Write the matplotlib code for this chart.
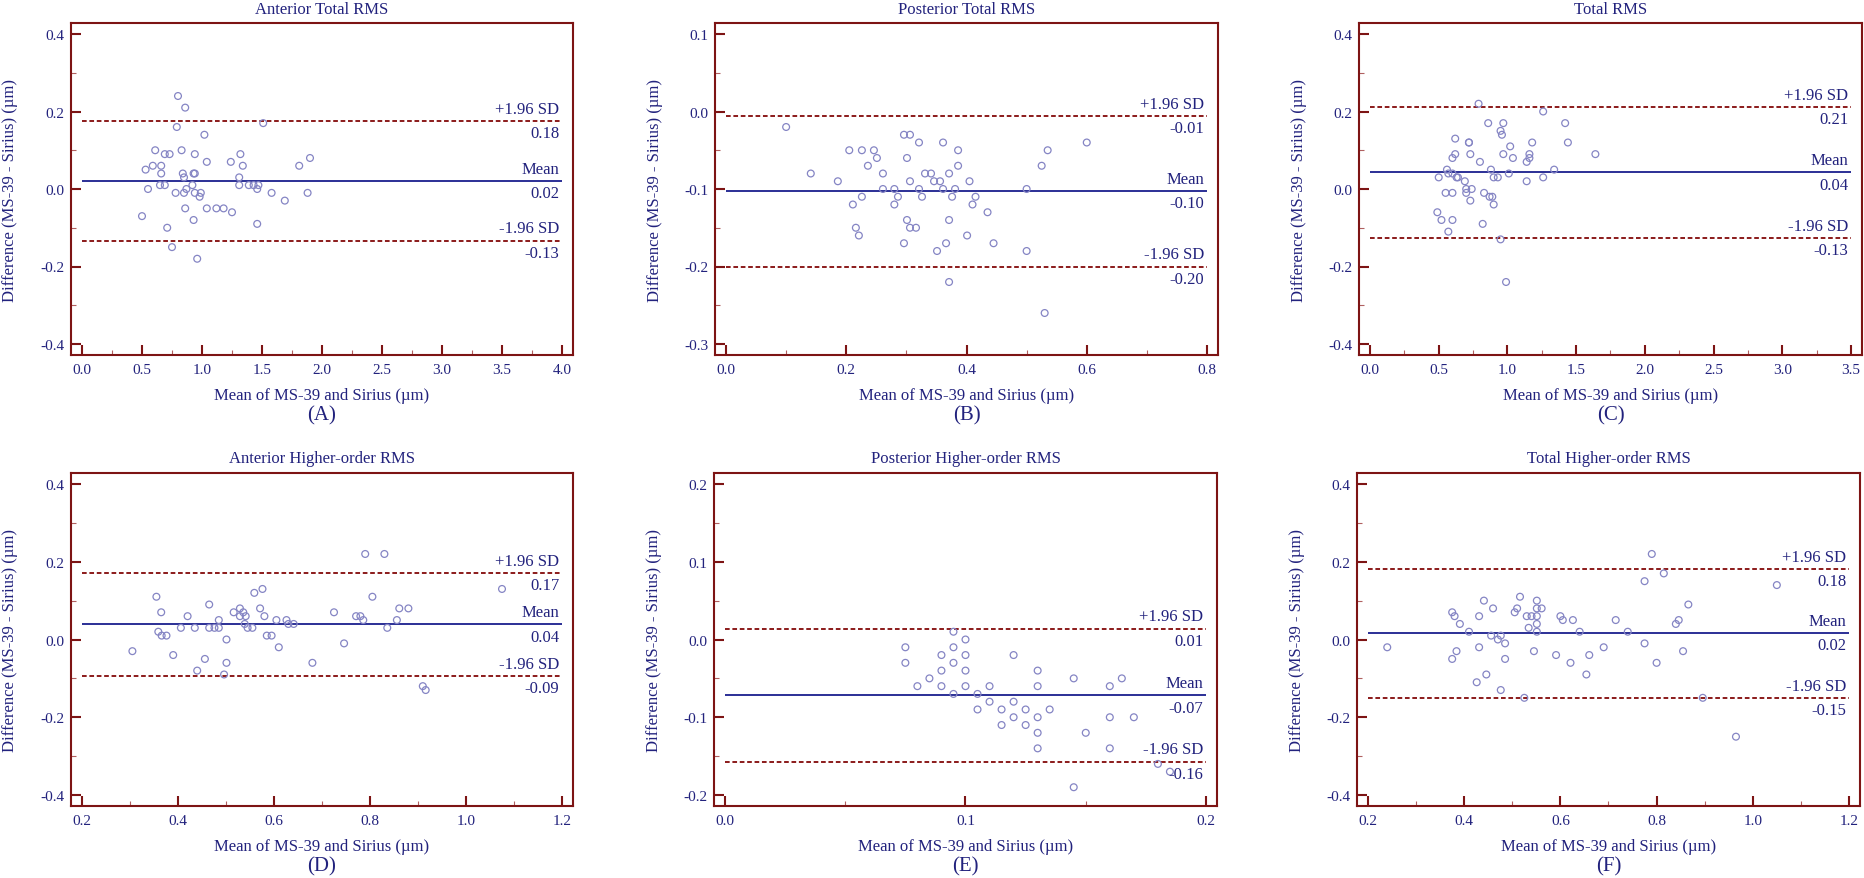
import matplotlib
matplotlib.use("Agg")
import matplotlib.pyplot as plt
from matplotlib.ticker import MultipleLocator, FormatStrFormatter

plt.rcParams['font.family'] = ['Liberation Serif', 'DejaVu Serif']
plt.rcParams['axes.unicode_minus'] = False

# ---- data ----
titles = ["Anterior Total RMS", "Posterior Total RMS", "Total RMS",
          "Anterior Higher-order RMS", "Posterior Higher-order RMS", "Total Higher-order RMS"]
letters = ["(A)", "(B)", "(C)", "(D)", "(E)", "(F)"]

a_x = [0.80, 0.86, 0.79, 1.51, 1.02, 0.61, 0.69, 0.73, 0.83, 0.94, 1.32, 1.90, 1.81, 1.04,
       1.24, 1.34, 0.59, 0.66, 0.53, 0.66, 0.84, 0.93, 0.94, 0.85, 1.31, 0.65, 0.69, 0.92,
       1.31, 1.39, 1.43, 1.47, 1.46, 0.55, 0.87, 0.78, 0.85, 0.94, 0.99, 0.98, 1.58, 1.88,
       1.69, 0.86, 1.04, 1.12, 1.18, 1.25, 0.50, 0.93, 0.71, 1.46, 0.75, 0.96]
a_y = [0.24, 0.21, 0.16, 0.17, 0.14, 0.10, 0.09, 0.09, 0.10, 0.09, 0.09, 0.08, 0.06, 0.07,
       0.07, 0.06, 0.06, 0.06, 0.05, 0.04, 0.04, 0.04, 0.04, 0.03, 0.03, 0.01, 0.01, 0.01,
       0.01, 0.01, 0.01, 0.01, 0.00, 0.00, 0.00, -0.01, -0.01, -0.01, -0.01, -0.02, -0.01, -0.01,
       -0.03, -0.05, -0.05, -0.05, -0.05, -0.06, -0.07, -0.08, -0.10, -0.09, -0.15, -0.18]

b_x = [0.100, 0.141, 0.186, 0.205, 0.226, 0.246, 0.251, 0.236, 0.261, 0.261, 0.280, 0.286,
       0.280, 0.211, 0.226, 0.216, 0.221, 0.296, 0.306, 0.321, 0.301, 0.306, 0.321, 0.326,
       0.331, 0.341, 0.346, 0.356, 0.361, 0.361, 0.386, 0.386, 0.371, 0.381, 0.376, 0.405,
       0.415, 0.410, 0.435, 0.301, 0.306, 0.316, 0.371, 0.296, 0.351, 0.366, 0.401, 0.445,
       0.371, 0.500, 0.500, 0.525, 0.535, 0.600, 0.530]
b_y = [-0.02, -0.08, -0.09, -0.05, -0.05, -0.05, -0.06, -0.07, -0.08, -0.10, -0.10, -0.11,
       -0.12, -0.12, -0.11, -0.15, -0.16, -0.03, -0.03, -0.04, -0.06, -0.09, -0.10, -0.11,
       -0.08, -0.08, -0.09, -0.09, -0.10, -0.04, -0.05, -0.07, -0.08, -0.10, -0.11, -0.09,
       -0.11, -0.12, -0.13, -0.14, -0.15, -0.15, -0.14, -0.17, -0.18, -0.17, -0.16, -0.17,
       -0.22, -0.10, -0.18, -0.07, -0.05, -0.04, -0.26]

c_x = [0.79, 1.26, 0.86, 0.97, 1.42, 0.95, 0.96, 0.62, 0.72, 0.72, 1.18, 1.44, 1.02, 0.62,
       0.73, 0.97, 1.16, 1.64, 0.60, 1.04, 1.16, 0.80, 1.14, 0.56, 0.88, 1.34, 0.57, 0.60,
       1.01, 0.50, 0.63, 0.64, 0.90, 0.93, 1.26, 0.69, 1.14, 0.70, 0.74, 0.55, 0.60, 0.70,
       0.83, 0.87, 0.89, 0.73, 0.90, 0.49, 0.52, 0.60, 0.82, 0.57, 0.95, 0.99]
c_y = [0.22, 0.20, 0.17, 0.17, 0.17, 0.15, 0.14, 0.13, 0.12, 0.12, 0.12, 0.12, 0.11, 0.09,
       0.09, 0.09, 0.09, 0.09, 0.08, 0.08, 0.08, 0.07, 0.07, 0.05, 0.05, 0.05, 0.04, 0.04,
       0.04, 0.03, 0.03, 0.03, 0.03, 0.03, 0.03, 0.02, 0.02, 0.00, 0.00, -0.01, -0.01, -0.01,
       -0.01, -0.02, -0.02, -0.03, -0.04, -0.06, -0.08, -0.08, -0.09, -0.11, -0.13, -0.24]

d_x = [0.305, 0.355, 0.365, 0.359, 0.366, 0.376, 0.390, 0.406, 0.420, 0.435, 0.440, 0.456,
       0.465, 0.465, 0.476, 0.485, 0.485, 0.496, 0.501, 0.501, 0.516, 0.529, 0.529, 0.536,
       0.541, 0.539, 0.545, 0.555, 0.559, 0.576, 0.571, 0.580, 0.585, 0.595, 0.605, 0.610,
       0.626, 0.630, 0.641, 0.680, 0.725, 0.746, 0.771, 0.780, 0.786, 0.790, 0.805, 0.830,
       0.836, 0.856, 0.861, 0.880, 0.910, 0.916, 1.075]
d_y = [-0.03, 0.11, 0.07, 0.02, 0.01, 0.01, -0.04, 0.03, 0.06, 0.03, -0.08, -0.05,
       0.09, 0.03, 0.03, 0.05, 0.03, -0.09, 0.00, -0.06, 0.07, 0.08, 0.06, 0.07,
       0.06, 0.04, 0.03, 0.03, 0.12, 0.13, 0.08, 0.06, 0.01, 0.01, 0.05, -0.02,
       0.05, 0.04, 0.04, -0.06, 0.07, -0.01, 0.06, 0.06, 0.05, 0.22, 0.11, 0.22,
       0.03, 0.05, 0.08, 0.08, -0.12, -0.13, 0.13]

e_x = [0.075, 0.075, 0.080, 0.085, 0.090, 0.090, 0.090, 0.095, 0.095, 0.095, 0.095, 0.100,
       0.100, 0.100, 0.100, 0.105, 0.105, 0.110, 0.110, 0.115, 0.115, 0.120, 0.120, 0.120,
       0.125, 0.125, 0.130, 0.130, 0.130, 0.130, 0.130, 0.135, 0.145, 0.145, 0.150, 0.160,
       0.160, 0.160, 0.165, 0.170, 0.180, 0.185]
e_y = [-0.01, -0.03, -0.06, -0.05, -0.02, -0.04, -0.06, 0.01, -0.01, -0.03, -0.07, 0.00,
       -0.02, -0.04, -0.06, -0.07, -0.09, -0.06, -0.08, -0.09, -0.11, -0.02, -0.08, -0.10,
       -0.09, -0.11, -0.04, -0.06, -0.10, -0.12, -0.14, -0.09, -0.05, -0.19, -0.12, -0.06,
       -0.10, -0.14, -0.05, -0.10, -0.16, -0.17]

f_x = [0.240, 0.375, 0.380, 0.391, 0.375, 0.384, 0.410, 0.431, 0.431, 0.426, 0.441, 0.446,
       0.456, 0.460, 0.470, 0.476, 0.476, 0.485, 0.485, 0.505, 0.510, 0.516, 0.525, 0.530,
       0.534, 0.540, 0.545, 0.551, 0.551, 0.551, 0.551, 0.551, 0.561, 0.591, 0.600, 0.605,
       0.621, 0.626, 0.640, 0.654, 0.660, 0.690, 0.715, 0.740, 0.775, 0.775, 0.790, 0.800,
       0.815, 0.840, 0.846, 0.855, 0.866, 0.896, 0.965, 1.050]
f_y = [-0.02, 0.07, 0.06, 0.04, -0.05, -0.03, 0.02, 0.06, -0.02, -0.11, 0.10, -0.09,
       0.01, 0.08, 0.00, 0.01, -0.13, -0.01, -0.05, 0.07, 0.08, 0.11, -0.15, 0.06,
       0.03, 0.06, -0.03, 0.10, 0.08, 0.06, 0.04, 0.02, 0.08, -0.04, 0.06, 0.05,
       -0.06, 0.05, 0.02, -0.09, -0.04, -0.02, 0.05, 0.02, 0.15, -0.01, 0.22, -0.06,
       0.17, 0.04, 0.05, -0.03, 0.09, -0.15, -0.25, 0.14]

xs = [a_x, b_x, c_x, d_x, e_x, f_x]
ys = [a_y, b_y, c_y, d_y, e_y, f_y]

# mean and limits of agreement
upper = [0.176, -0.006, 0.212, 0.171, 0.014, 0.182]
means = [0.021, -0.103, 0.043, 0.039, -0.072, 0.017]
lower = [-0.133, -0.200, -0.127, -0.094, -0.157, -0.150]
upper_txt = ["0.18", "-0.01", "0.21", "0.17", "0.01", "0.18"]
mean_txt = ["0.02", "-0.10", "0.04", "0.04", "-0.07", "0.02"]
lower_txt = ["-0.13", "-0.20", "-0.13", "-0.09", "-0.16", "-0.15"]

# axis ranges and tick steps
x_range = [(0.0, 4.0), (0.0, 0.8), (0.0, 3.5), (0.2, 1.2), (0.0, 0.2), (0.2, 1.2)]
y_range = [(-0.4, 0.4), (-0.3, 0.1), (-0.4, 0.4), (-0.4, 0.4), (-0.2, 0.2), (-0.4, 0.4)]
x_step = [0.5, 0.2, 0.5, 0.2, 0.1, 0.2]
y_step = [0.2, 0.1, 0.2, 0.2, 0.1, 0.2]

# ---- styling ----
W, H = 1865, 879
spine_c = '#7d1414'
text_c = '#22227d'
mean_c = '#2b2f96'
dash_c = '#8b1a1a'
marker_c = '#8585c4'
tick_fs = 11
lab_fs = 12

# axes boxes in pixels: left, top, right, bottom
boxes = [(71, 24, 573, 356), (715, 24, 1218, 356), (1359, 24, 1862, 356),
         (71, 474, 573, 807), (714, 474, 1217, 807), (1357, 474, 1860, 807)]
ylab_x = [10, 655, 1299, 10, 654, 1297]
inner = 11  # px between spine and first/last data tick

fig = plt.figure(figsize=(W / 100, H / 100), dpi=100)


def ftext(px, py, s, **kw):
    fig.text(px / W, 1 - py / H, s, color=text_c, ha='center', va='center', **kw)


for i in range(6):
    l, t, r, b = boxes[i]
    ax = fig.add_axes([l / W, 1 - b / H, (r - l) / W, (b - t) / H])
    x0, x1 = x_range[i]
    y0, y1 = y_range[i]
    padx = (x1 - x0) * inner / (r - l - 2 * inner)
    pady = (y1 - y0) * inner / (b - t - 2 * inner)
    ax.set_xlim(x0 - padx, x1 + padx)
    ax.set_ylim(y0 - pady, y1 + pady)

    ax.scatter(xs[i], ys[i], s=24, facecolors='none', edgecolors=marker_c, linewidths=0.9, zorder=3)
    ax.hlines(means[i], x0, x1, colors=mean_c, linewidth=1.4)
    ax.hlines([upper[i], lower[i]], x0, x1, colors=dash_c, linewidth=1.4,
              linestyles=(0, (2.4, 1.4)))

    for yv, top_s, bot_s in [(upper[i], "+1.96 SD", upper_txt[i]),
                             (means[i], "Mean", mean_txt[i]),
                             (lower[i], "-1.96 SD", lower_txt[i])]:
        ax.annotate(top_s, (x1, yv), xytext=(-2, 3), textcoords='offset points',
                    ha='right', va='bottom', color=text_c, fontsize=lab_fs)
        ax.annotate(bot_s, (x1, yv), xytext=(-2, -3), textcoords='offset points',
                    ha='right', va='top', color=text_c, fontsize=lab_fs)

    ax.xaxis.set_major_locator(MultipleLocator(x_step[i]))
    ax.xaxis.set_minor_locator(MultipleLocator(x_step[i] / 2))
    ax.yaxis.set_major_locator(MultipleLocator(y_step[i]))
    ax.yaxis.set_minor_locator(MultipleLocator(y_step[i] / 2))
    ax.xaxis.set_major_formatter(FormatStrFormatter('%.1f'))
    ax.yaxis.set_major_formatter(FormatStrFormatter('%.1f'))
    ax.tick_params(which='major', direction='in', length=7, width=1.5, color=spine_c,
                   labelcolor=text_c, labelsize=tick_fs)
    ax.tick_params(which='minor', direction='in', length=3.5, width=0.8, color='#b06060')
    ax.tick_params(axis='x', which='major', pad=5.5)
    ax.tick_params(axis='y', which='major', pad=5)
    for sp in ax.spines.values():
        sp.set_color(spine_c)
        sp.set_linewidth(1.5)

    ftext((l + r) / 2, t - 14.5, titles[i], fontsize=lab_fs)
    ftext((l + r) / 2, b + 40.5, "Mean of MS-39 and Sirius (µm)", fontsize=lab_fs)
    ftext(ylab_x[i], (t + b) / 2, "Difference (MS-39 - Sirius) (µm)", fontsize=lab_fs, rotation=90)
    ftext((l + r) / 2, b + 60, letters[i], fontsize=15)

fig.savefig("out.png", dpi=100)
